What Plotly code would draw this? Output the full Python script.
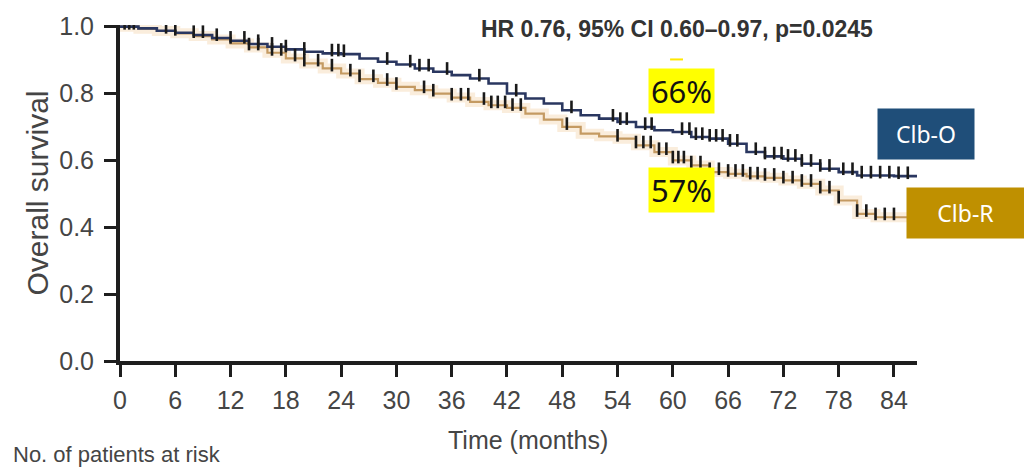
import numpy as np
import plotly.graph_objects as go

# ---- data ----
months = [0, 2, 4, 6, 8, 10, 12, 14, 16, 18, 20, 22, 24, 26, 28, 30, 32, 34, 36, 38, 40, 42,
          44, 46, 48, 50, 52, 54, 56, 58, 60, 62, 64, 66, 68, 70, 72, 74, 76, 78, 80, 82, 84, 86.5]
surv_clb_o = [1.0, 0.995, 0.988, 0.982, 0.975, 0.966, 0.958, 0.948, 0.94, 0.932, 0.925, 0.92, 0.918,
              0.905, 0.895, 0.887, 0.875, 0.865, 0.855, 0.845, 0.83, 0.80, 0.785, 0.77, 0.75, 0.735,
              0.725, 0.715, 0.70, 0.69, 0.685, 0.67, 0.665, 0.65, 0.625, 0.612, 0.605, 0.59, 0.575,
              0.565, 0.555, 0.555, 0.553, 0.553]
surv_clb_r = [1.0, 0.994, 0.987, 0.98, 0.972, 0.962, 0.95, 0.938, 0.922, 0.905, 0.89, 0.875, 0.86,
              0.843, 0.832, 0.82, 0.81, 0.80, 0.788, 0.775, 0.765, 0.757, 0.74, 0.722, 0.70, 0.68,
              0.672, 0.665, 0.645, 0.625, 0.60, 0.585, 0.565, 0.56, 0.552, 0.548, 0.54, 0.53, 0.51,
              0.48, 0.44, 0.43, 0.43, 0.43]
censor_clb_o = [0.5, 1, 1.5, 5, 6, 8, 9, 10.5, 12, 13.5, 15, 16.5, 18, 20, 23, 23.7, 24.3, 29, 31.5,
                32.5, 33.5, 35.5, 39, 43, 49, 53.5, 54.3, 55, 57, 57.7, 61, 61.8, 62.5, 63.2, 64,
                64.7, 65.4, 66.2, 67, 69, 70, 71, 71.8, 72.5, 73.3, 74, 75, 76, 77, 78.5, 79.5,
                80.5, 81.5, 82.5, 83.5, 84.5, 85.5]
censor_clb_r = [14, 15, 16.5, 17.5, 19, 20, 21.5, 23, 25, 26, 27.5, 29, 30, 33, 34, 36, 37, 37.8,
                39.5, 40.3, 41, 41.8, 42.6, 43.5, 48.5, 54, 56, 56.8, 57.6, 58.5, 59.3, 60, 60.6,
                61.2, 62, 63, 64, 65, 66, 66.8, 67.6, 68.4, 69.2, 70, 71, 72, 73, 74, 75, 76, 77,
                78, 80, 81, 82, 83, 84]
x_ticks = list(range(0, 85, 6))
y_ticks = [0.0, 0.2, 0.4, 0.6, 0.8, 1.0]
label_o, label_r = "Clb-O", "Clb-R"
pct_o, pct_r = "66%", "57%"
hr_text = "HR 0.76, 95% CI 0.60–0.97, p=0.0245"


def step_at(times, surv, pts):
    t = np.asarray(times)
    s = np.asarray(surv)
    idx = np.searchsorted(t, np.asarray(pts), side="right") - 1
    return s[np.clip(idx, 0, len(s) - 1)]


# plot-area geometry (pixels) used to place paper-referenced text
L, R, T, B = 120, 107, 23, 107
PW, PH = 1024 - L - R, 468 - T - B


def px(xpix):
    return (xpix - L) / PW


def py(ypix):
    return (468 - B - ypix) / PH


fig = go.Figure()
# soft glow under the Clb-R curve
fig.add_trace(go.Scatter(x=months, y=surv_clb_r, mode="lines", line_shape="hv",
                         line=dict(color="rgba(238,195,140,0.30)", width=10),
                         hoverinfo="skip", showlegend=False))
fig.add_trace(go.Scatter(x=months, y=surv_clb_r, mode="lines", line_shape="hv", name=label_r,
                         line=dict(color="#C49A62", width=2.2), showlegend=False))
fig.add_trace(go.Scatter(x=months, y=surv_clb_o, mode="lines", line_shape="hv", name=label_o,
                         line=dict(color="#2A3760", width=2.6), showlegend=False))
fig.add_trace(go.Scatter(x=censor_clb_r, y=step_at(months, surv_clb_r, censor_clb_r) + 0.01,
                         mode="markers", showlegend=False, hoverinfo="skip",
                         marker=dict(symbol="line-ns", size=9,
                                     line=dict(color="#1a1a1a", width=2.6))))
fig.add_trace(go.Scatter(x=censor_clb_o, y=step_at(months, surv_clb_o, censor_clb_o) + 0.01,
                         mode="markers", showlegend=False, hoverinfo="skip",
                         marker=dict(symbol="line-ns", size=9,
                                     line=dict(color="#1a1a1a", width=2.6))))

FONT = "Liberation Sans, Arial, sans-serif"
tick_font = dict(family=FONT, size=25, color="#454545")
axis_common = dict(showline=True, linewidth=4, linecolor="#1e1e1e", ticks="outside",
                   ticklen=12, tickwidth=3, tickcolor="#1e1e1e", showgrid=False,
                   zeroline=False, tickfont=tick_font)
fig.update_xaxes(range=[0, 86.5], tickvals=x_ticks, ticktext=[str(v) for v in x_ticks],
                 ticklabelstandoff=2, **axis_common)
fig.update_yaxes(range=[0, 1.005], tickvals=y_ticks, ticktext=[f"{v:.1f}" for v in y_ticks],
                 ticklabelstandoff=5,
                 title=dict(text="Overall survival", font=dict(family=FONT, size=30, color="#454545"),
                            standoff=3), **axis_common)

annos = [
    dict(x=px(677), y=py(27), xref="paper", yref="paper", xanchor="center", yanchor="middle",
         text=f"<b>{hr_text}</b>", showarrow=False,
         font=dict(family=FONT, size=23, color="#333333")),
    dict(x=px(527.5), y=py(440), xref="paper", yref="paper", xanchor="center", yanchor="middle",
         text="Time (months)", showarrow=False,
         font=dict(family=FONT, size=25, color="#454545")),
    dict(x=60.9, y=0.807, xref="x", yref="y", xanchor="center", yanchor="middle",
         text=pct_o, showarrow=False, bgcolor="#FFFF00", width=65, height=44, borderpad=0,
         font=dict(family="Noto Sans, sans-serif", size=31, color="#111111")),
    dict(x=60.9, y=0.51, xref="x", yref="y", xanchor="center", yanchor="middle",
         text=pct_r, showarrow=False, bgcolor="#FFFF00", width=65, height=44, borderpad=0,
         font=dict(family="Noto Sans, sans-serif", size=31, color="#111111")),
    dict(x=px(926), y=py(133), xref="paper", yref="paper", xanchor="center", yanchor="middle",
         text=label_o, showarrow=False, bgcolor="#1F4E79", width=96, height=50, borderpad=0,
         font=dict(family="Noto Sans, sans-serif", size=23, color="white")),
    dict(x=px(965.5), y=py(212), xref="paper", yref="paper", xanchor="center", yanchor="middle",
         text=label_r, showarrow=False, bgcolor="#BF9000", width=117, height=50, borderpad=0,
         font=dict(family="Noto Sans, sans-serif", size=23, color="white")),
    dict(x=px(11), y=py(455), xref="paper", yref="paper", xanchor="left", yanchor="middle",
         text="No. of patients at risk", showarrow=False,
         font=dict(family=FONT, size=22, color="#454545")),
]

fig.update_layout(
    width=1024, height=468, margin=dict(l=L, r=R, t=T, b=B),
    paper_bgcolor="white", plot_bgcolor="white", annotations=annos,
    shapes=[dict(type="line", xref="x", yref="y", x0=59.7, x1=61.1, y0=0.902, y1=0.902,
                 line=dict(color="#FFE800", width=2))],
)
fig.write_html("out.html")
